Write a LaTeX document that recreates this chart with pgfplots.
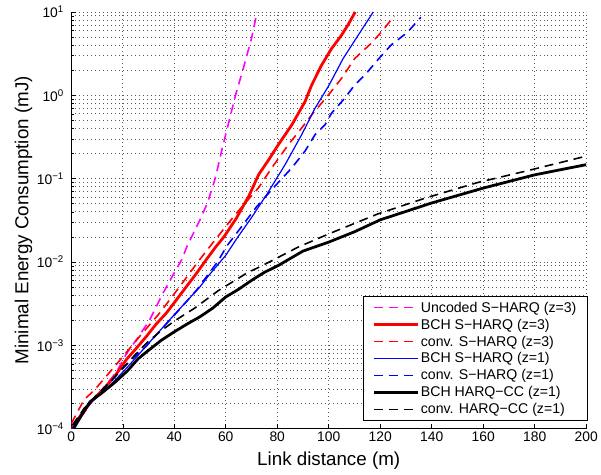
\documentclass[border=0pt]{standalone}
\usepackage{fontspec}
\setmainfont{Liberation Sans}
\usepackage{pgfplots}
\pgfplotsset{compat=1.18}
\definecolor{mag}{rgb}{1,0,1}
\definecolor{rd}{rgb}{1,0,0}
\definecolor{bl}{rgb}{0,0,1}
\begin{document}
\begin{tikzpicture}
\begin{axis}[
 scale only axis, width=519bp, height=420bp,
 xmin=0, xmax=200, ymode=log, ymin=1e-4, ymax=10,
 axis x line*=bottom, axis y line*=left,
 axis line style={line width=0.8bp},
 xtick={0,20,...,200},
 ytick={1e-4,1e-3,1e-2,1e-1,1,10},
 yticklabels={10\textsuperscript{−4},10\textsuperscript{−3},10\textsuperscript{−2},10\textsuperscript{−1},10\textsuperscript{0},10\textsuperscript{1}},
 /pgf/number format/assume math mode=true,
 tick label style={font=\fontsize{14}{16}\selectfont},
 yticklabel style={xshift=-4bp, inner ysep=6bp},
 tick align=inside,
 major tick length=5bp, minor tick length=3bp,
 tick style={black, line width=0.5bp},
 grid=both,
 major grid style={dash pattern=on 0.7bp off 3.3bp, black!65, line width=0.6bp},
 minor grid style={dash pattern=on 0.7bp off 3.3bp, black!65, line width=0.6bp},
 xlabel={Link distance (m)},
 ylabel={Minimal Energy Consumption (mJ)},
 label style={font=\fontsize{19}{22}\selectfont},
 xlabel style={at={(axis description cs:0.5,-0.076)}, anchor=center, inner ysep=5bp},
 ylabel style={at={(axis description cs:-0.0925,0.5)}, anchor=center, inner ysep=15bp},
 legend cell align=left,
 legend style={at={(rel axis cs:1.004,0.019)}, anchor=south east,
   font=\fontsize{14.3}{17}\selectfont, draw=black, line width=0.8bp,
   inner xsep=9.5bp, inner ysep=3bp, row sep=1.3bp},
]
\addplot[mag, dash pattern=on 9bp off 6bp, line width=1.6bp,
  legend image code/.code={\draw[mag, dash pattern=on 9bp off 6bp, line width=1.6bp] (0bp,0bp) -- (44bp,0bp);}] coordinates {(0.4,1.0e-4)(5,1.55e-4)(8.6,2.26e-4)(13,3.2e-4)(17.6,4.8e-4)(21.5,8e-4)(26,1.25e-3)(30.4,2.0e-3)(35.6,4.2e-3)(40.1,7.5e-3)(42.8,1.05e-2)(45.2,1.6e-2)(50,3.2e-2)(53,5.2e-2)(55.9,0.1)(58.7,0.234)(61,0.45)(63.8,1.0)(67,2.2)(70,4.8)(72.2,10)};
\addlegendentry{Uncoded S−HARQ (z=3)}
\addplot[rd, line width=2.8bp,
  legend image code/.code={\draw[rd, line width=2.8bp] (0bp,0bp) -- (44bp,0bp);}] coordinates {(0.3,1e-4)(4,1.5e-4)(8,2.15e-4)(13,3.1e-4)(17,4.3e-4)(21.5,6.8e-4)(25,9e-4)(29.2,1.28e-3)(33,1.8e-3)(36.9,2.43e-3)(40.5,3.4e-3)(44.6,5e-3)(48.5,7.2e-3)(52.3,1.05e-2)(56,1.5e-2)(59.3,2e-2)(64,3.3e-2)(69,6.2e-2)(72.8,0.112)(76.5,0.165)(80.5,0.257)(85.7,0.443)(90.8,0.84)(93.4,1.33)(97.2,2.29)(101.1,3.63)(104.9,5.22)(107.5,7)(110.3,10)};
\addlegendentry{BCH S−HARQ (z=3)}
\addplot[rd, dash pattern=on 9bp off 6bp, line width=1.6bp,
  legend image code/.code={\draw[rd, dash pattern=on 9bp off 6bp, line width=1.6bp] (0bp,0bp) -- (44bp,0bp);}] coordinates {(0,1.15e-4)(2,1.5e-4)(4.9,2.2e-4)(9.4,3.0e-4)(14,4.4e-4)(20.2,7.4e-4)(26.6,1.28e-3)(34.3,2.43e-3)(42,5.0e-3)(49.7,1.05e-2)(56.8,2.0e-2)(64,3.8e-2)(72.8,7.8e-2)(77.9,0.135)(84.4,0.257)(89.5,0.405)(93.4,0.583)(99.8,1.0)(105,1.6)(110.1,2.76)(116.5,4.2)(121,6.0)(125.5,9.0)};
\addlegendentry{conv. S−HARQ (z=3)}
\addplot[bl, line width=1.2bp,
  legend image code/.code={\draw[bl, line width=1.2bp] (0bp,0bp) -- (44bp,0bp);}] coordinates {(0.3,1e-4)(4,1.5e-4)(8,2.1e-4)(13,2.85e-4)(18,4.1e-4)(23,6.0e-4)(27.9,8.9e-4)(33.6,1.4e-3)(38.2,2.02e-3)(43.3,3.0e-3)(49.7,4.9e-3)(53.6,7.0e-3)(60,1.2e-2)(64.5,1.95e-2)(70,3.4e-2)(76,6.5e-2)(83.1,0.148)(89.5,0.337)(94.7,0.7)(100,1.3)(105.6,2.76)(111,5.0)(117.3,10)};
\addlegendentry{BCH S−HARQ (z=1)}
\addplot[bl, dash pattern=on 9bp off 6bp, line width=1.6bp,
  legend image code/.code={\draw[bl, dash pattern=on 9bp off 6bp, line width=1.6bp] (0bp,0bp) -- (44bp,0bp);}] coordinates {(0.5,1.1e-4)(5,1.7e-4)(10,2.5e-4)(15,3.6e-4)(20,5.3e-4)(25,7.5e-4)(29.2,9.8e-4)(34.3,1.47e-3)(41.3,2.54e-3)(48.7,4.6e-3)(56.8,1e-2)(60.6,1.58e-2)(65.1,2.4e-2)(72,4.6e-2)(78.6,7.8e-2)(85.7,0.135)(90.8,0.214)(94.7,0.337)(98.5,0.44)(101.1,0.61)(106.2,0.92)(110.1,1.33)(114.6,1.83)(118.9,2.63)(124.2,4.0)(130.6,5.7)(135.8,8.65)};
\addlegendentry{conv. S−HARQ (z=1)}
\addplot[black, line width=2.8bp,
  legend image code/.code={\draw[black, line width=2.8bp] (0bp,0bp) -- (44bp,0bp);}] coordinates {(0.9,1e-4)(4,1.45e-4)(7.3,2.1e-4)(12,2.7e-4)(17,3.6e-4)(22,5e-4)(26,6.9e-4)(30,8.7e-4)(35,1.15e-3)(40,1.45e-3)(45,1.8e-3)(50,2.2e-3)(55,2.8e-3)(60,3.8e-3)(65,4.7e-3)(70,6e-3)(75,7.5e-3)(80.5,9.1e-3)(90,1.35e-2)(100,1.73e-2)(110,2.3e-2)(120,3.2e-2)(140,5.1e-2)(160,7.7e-2)(180,0.111)(200,0.147)};
\addlegendentry{BCH HARQ−CC (z=1)}
\addplot[black, dash pattern=on 9bp off 6bp, line width=1.6bp,
  legend image code/.code={\draw[black, dash pattern=on 9bp off 6bp, line width=1.6bp] (0bp,0bp) -- (44bp,0bp);}] coordinates {(0.5,1.1e-4)(5,1.75e-4)(10,2.55e-4)(15,3.6e-4)(20,5.3e-4)(25,7.8e-4)(30,1.12e-3)(35,1.5e-3)(40,1.95e-3)(48,2.8e-3)(57,4.5e-3)(68,7.3e-3)(75,9.3e-3)(88,1.5e-2)(100,2.17e-2)(119,3.76e-2)(138,5.9e-2)(158,9e-2)(177,0.124)(200,0.186)};
\addlegendentry{conv. HARQ−CC (z=1)}
\end{axis}
\end{tikzpicture}
\end{document}
